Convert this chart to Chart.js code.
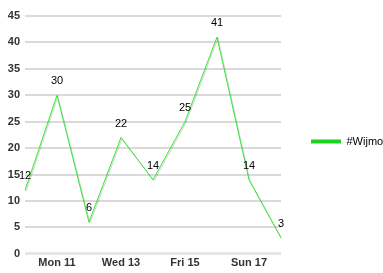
<!DOCTYPE html>
<html>
<head>
<meta charset="utf-8">
<script src="https://cdn.jsdelivr.net/npm/chart.js@4"></script>
<style>
html,body{margin:0;padding:0;background:#fff;}
#wrap{width:383px;height:273px;position:relative;}
</style>
</head>
<body>
<div id="wrap"><canvas id="c" width="383" height="273"></canvas></div>
<script>
const categories = ['Sun 10','Mon 11','Tue 12','Wed 13','Thu 14','Fri 15','Sat 16','Sun 17','Mon 18'];
const wijmoValues = [12, 30, 6, 22, 14, 25, 41, 14, 3];
const seriesName = '#Wijmo';
const yTicks = [0, 5, 10, 15, 20, 25, 30, 35, 40, 45];

const lineColor = '#33e633';
const legendColor = '#1fd21f';

const legendFitPlugin = {
  id: 'legendFit',
  beforeUpdate(chart) {
    const lg = chart.legend;
    if (lg && !lg._patched) {
      const f = lg.fit;
      lg.fit = function () { f.call(this); this.width = 102; };
      lg._patched = true;
    }
  },
  afterLayout(chart) {
    if (chart.legend) { chart.legend.bottom -= 6; }
  }
};

const shadowPlugin = {
  id: 'shadow',
  beforeDatasetDraw(chart) {
    const ctx = chart.ctx;
    ctx.save();
    ctx.shadowColor = 'rgba(0,0,0,0.18)';
    ctx.shadowOffsetX = 1;
    ctx.shadowOffsetY = 1;
    ctx.shadowBlur = 0;
  },
  afterDatasetDraw(chart) {
    chart.ctx.restore();
  }
};

const valueLabelPlugin = {
  id: 'valueLabels',
  afterDatasetsDraw(chart) {
    const ctx = chart.ctx;
    const meta = chart.getDatasetMeta(0);
    const data = chart.data.datasets[0].data;
    ctx.save();
    ctx.font = '11px "Liberation Sans", Arial, sans-serif';
    ctx.fillStyle = '#000';
    ctx.textAlign = 'center';
    ctx.textBaseline = 'middle';
    meta.data.forEach((pt, i) => {
      ctx.fillText(String(data[i]), pt.x, pt.y - 14);
    });
    ctx.restore();
  }
};

new Chart(document.getElementById('c'), {
  type: 'line',
  data: {
    labels: categories,
    datasets: [{
      label: seriesName,
      data: wijmoValues,
      borderColor: lineColor,
      backgroundColor: legendColor,
      borderWidth: 1,
      pointRadius: 0,
      tension: 0,
      fill: false
    }]
  },
  options: {
    responsive: false,
    animation: false,
    devicePixelRatio: 1,
    layout: { padding: { top: 16, bottom: 0, left: 0, right: 0 } },
    plugins: {
      tooltip: { enabled: false },
      legend: {
        position: 'right',
        align: 'center',
        labels: {
          boxWidth: 30,
          boxHeight: 4,
          padding: 30,
          color: '#222',
          font: { family: '"Liberation Sans", Arial, sans-serif', size: 11 },
          generateLabels(chart) {
            return [{
              text: seriesName,
              fillStyle: legendColor,
              strokeStyle: legendColor,
              lineWidth: 0,
              hidden: false,
              datasetIndex: 0
            }];
          }
        }
      }
    },
    scales: {
      x: {
        offset: false,
        grid: { display: false, drawTicks: false },
        border: { display: false },
        ticks: {
          autoSkip: false,
          maxRotation: 0,
          padding: 3,
          color: '#333',
          font: { family: '"Liberation Sans", Arial, sans-serif', size: 11, weight: 'bold' },
          callback(v, i) { return i % 2 === 1 ? categories[i] : ''; }
        }
      },
      y: {
        min: yTicks[0],
        max: yTicks[yTicks.length - 1],
        afterFit(scale) { scale.width = 25; },
        afterBuildTicks(scale) { scale.ticks = yTicks.map(v => ({ value: v })); },
        grid: {
          drawTicks: false,
          lineWidth: (c) => (c.tick && c.tick.value === 0 ? 3 : 2),
          color: (c) => (c.tick && c.tick.value === 0 ? '#e6e6e6' : '#dadada')
        },
        border: { display: false },
        ticks: {
          padding: 5,
          color: '#333',
          font: { family: '"Liberation Sans", Arial, sans-serif', size: 11, weight: 'bold' }
        }
      }
    }
  },
  plugins: [legendFitPlugin, shadowPlugin, valueLabelPlugin]
});
</script>
</body>
</html>
